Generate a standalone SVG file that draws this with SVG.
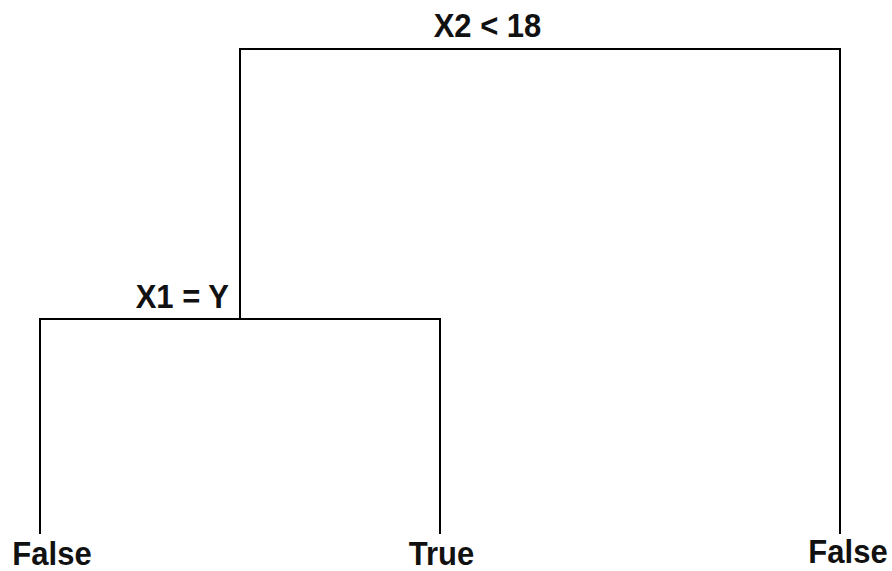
<svg xmlns="http://www.w3.org/2000/svg" width="892" height="571" viewBox="0 0 892 571">
<style>
.e{fill:none;stroke:#000;stroke-width:2}
.t{font-family:"Liberation Sans",Arial,sans-serif;font-weight:bold;font-size:31px;fill:#111}
</style>
<rect width="892" height="571" fill="#fff"/>
<g id="connectors">
<path class="e" d="M240,319 V49 H840 V534"/>
<path class="e" d="M40,534 V319 H440 V534"/>
</g>
<g id="root"><text class="t" transform="translate(487.5,37) scale(1,1.1)" text-anchor="middle">X2 &lt; 18</text></g>
<g id="split"><text class="t" transform="translate(229,308) scale(1,1.1)" text-anchor="end">X1 = Y</text></g>
<g id="leaf-false-left"><text class="t" transform="translate(52,564.5) scale(1,1.1)" text-anchor="middle">False</text></g>
<g id="leaf-true"><text class="t" transform="translate(441.5,564.5) scale(1,1.1)" text-anchor="middle">True</text></g>
<g id="leaf-false-right"><text class="t" transform="translate(848,563) scale(1,1.1)" text-anchor="middle">False</text></g>
</svg>
